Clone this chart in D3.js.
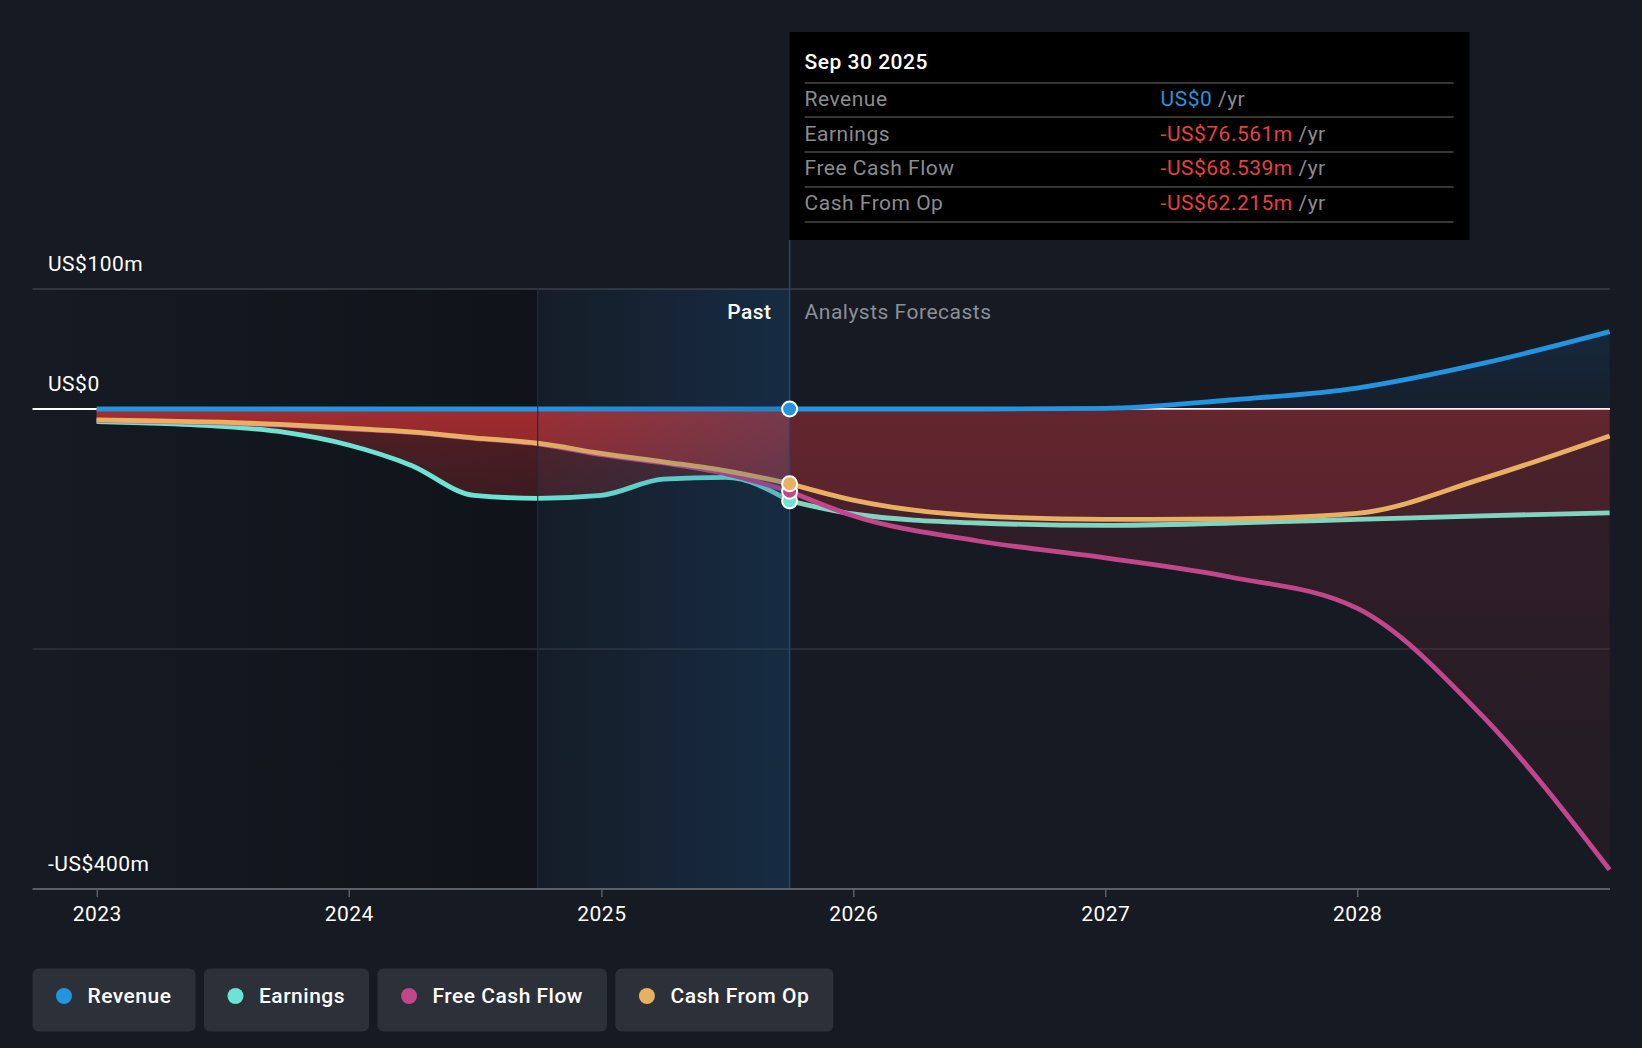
<!DOCTYPE html>
<html>
<head>
<meta charset="utf-8">
<script src="https://cdn.jsdelivr.net/npm/d3@7"></script>
<style>
  html, body { margin: 0; padding: 0; background: #151a23; }
  svg { display: block; font-family: Roboto, "Noto Sans", sans-serif; letter-spacing: 0.5px; }
</style>
</head>
<body>
<script>
// past values, quarterly (US$m)
var pastDates    = ["2022-12-31","2023-03-31","2023-06-30","2023-09-30","2023-12-31","2024-03-31",
                    "2024-06-30","2024-09-30","2024-12-31","2025-03-31","2025-06-30","2025-09-30"];
var pastRevenue  = [0, 0, 0, 0, 0, 0, 0, 0, 0, 0, 0, 0];
var pastEarnings = [-10.5, -12, -14.5, -19.5, -30, -47, -72, -74.4, -72, -58.5, -57, -76.561];
var pastFCF      = [-9.5, -10.5, -11.5, -13.5, -16.5, -19.5, -24.5, -29, -38, -45, -54, -68.539];
var pastCFO      = [-9, -10, -11, -13, -16, -19, -24, -28.5, -37, -44, -51.5, -62.215];

// analyst forecasts (US$m)
var fcDates    = ["2025-09-30","2025-12-31","2026-06-30","2026-12-31","2027-06-30","2027-12-31","2028-06-30","2028-12-31"];
var fcRevenue  = [0, 0, 0, 0.5, 7.5, 17.5, 38, 64.5];
var fcEarnings = [-76.561, -87.5, -95, -97, -95, -92, -89, -86.5];
var fcFCF      = [-68.539, -89, -110, -124, -140, -166, -256, -384];
var fcCFO      = [-62.215, -76, -89, -92, -91.5, -87, -58, -22.5];

var seriesNames  = ["Revenue", "Earnings", "Free Cash Flow", "Cash From Op"];
var seriesColors = ["#2394df", "#6de3d3", "#c2468a", "#e8b062"];
var yTickValues  = [100, 0, -400];
var yGridValues  = [100, -200];
var xTickYears   = [2023, 2024, 2025, 2026, 2027, 2028];
var todayDate    = "2025-09-30";
var yearAgoDate  = "2024-09-30";
var tooltipTitle = "Sep 30 2025";
var tooltipValues = ["US$0", "-US$76.561m", "-US$68.539m", "-US$62.215m"];

var W = 1642, H = 1048;
var plotLeft = 32.5, plotRight = 1610, plotTop = 289, plotBottom = 889;
var fs = 21;

var parse = d3.timeParse("%Y-%m-%d");

var x = d3.scaleTime()
    .domain([parse("2023-01-01"), parse("2029-01-01")])
    .range([97.3, 1610.3]);
var y = d3.scaleLinear().domain([-400, 100]).range([plotBottom, plotTop]);

function rows(dates, vals) {
  return dates.map(function(d, i) { return {date: parse(d), v: vals[i]}; });
}
var past = [pastRevenue, pastEarnings, pastFCF, pastCFO].map(function(v) { return rows(pastDates, v); });
var fc   = [fcRevenue, fcEarnings, fcFCF, fcCFO].map(function(v) { return rows(fcDates, v); });

var fmt = function(v) {
  return (v < 0 ? "-" : "") + "US$" + Math.abs(v) + (v === 0 ? "" : "m");
};

var svg = d3.select("body").append("svg")
    .attr("width", W)
    .attr("height", H);

var defs = svg.append("defs");

function linGrad(id, attrs, stops) {
  var g = defs.append("linearGradient").attr("id", id);
  Object.keys(attrs).forEach(function(k) { g.attr(k, attrs[k]); });
  stops.forEach(function(s) {
    g.append("stop").attr("offset", s[0]).attr("stop-color", s[1]).attr("stop-opacity", s[2]);
  });
}
linGrad("leftShade", {x1: 0, x2: 1, y1: 0, y2: 0}, [[0, "#000", 0.0], [1, "#000", 0.28]]);
linGrad("yearShade", {x1: 0, x2: 1, y1: 0, y2: 0}, [[0, "#19558c", 0.04], [1, "#19558c", 0.3]]);
linGrad("pastRed", {gradientUnits: "userSpaceOnUse", x1: 0, x2: 0, y1: y(0), y2: y(-100)},
  [[0, "#e13737", 0.32], [1, "#e13737", 0.17]]);
linGrad("fcRed", {gradientUnits: "userSpaceOnUse", x1: 0, x2: 0, y1: y(0), y2: y(-400)},
  [[0, "#e03741", 0.15], [1, "#e03741", 0.06]]);
linGrad("fcBlue", {gradientUnits: "userSpaceOnUse", x1: 0, x2: 0, y1: y(100), y2: y(0)},
  [[0, "#2378c8", 0.2], [1, "#2378c8", 0.06]]);

// shaded past backgrounds
svg.append("rect")
    .attr("x", plotLeft).attr("y", plotTop)
    .attr("width", x(parse(yearAgoDate)) - plotLeft)
    .attr("height", plotBottom - plotTop)
    .attr("fill", "url(#leftShade)");

// gridlines
svg.selectAll(".grid").data(yGridValues).enter().append("line")
    .attr("x1", plotLeft).attr("x2", plotRight)
    .attr("y1", function(d) { return y(d); }).attr("y2", function(d) { return y(d); })
    .attr("stroke", function(d, i) { return i === 0 ? "#3b3f47" : "#2e323a"; })
    .attr("stroke-width", 1.5);

// zero line
svg.append("line")
    .attr("x1", plotLeft).attr("x2", plotRight)
    .attr("y1", y(0)).attr("y2", y(0))
    .attr("stroke", "#ffffff").attr("stroke-width", 2);

var area = d3.area()
    .x(function(d) { return x(d.date); })
    .y0(y(0))
    .y1(function(d) { return y(d.v); })
    .curve(d3.curveMonotoneX);

var line = d3.line()
    .x(function(d) { return x(d.date); })
    .y(function(d) { return y(d.v); })
    .curve(d3.curveMonotoneX);

// areas: negative series in red, revenue in blue
[1, 2, 3].forEach(function(i) {
  svg.append("path").datum(past[i]).attr("d", area).attr("fill", "url(#pastRed)");
});
[1, 2, 3].forEach(function(i) {
  svg.append("path").datum(fc[i]).attr("d", area).attr("fill", "url(#fcRed)");
});
svg.append("path").datum(fc[0]).attr("d", area).attr("fill", "url(#fcBlue)");

// lines: earnings, fcf, cfo, revenue
var fcLineColors = ["#2394df", "#80d5c0", "#c2468a", "#e8b062"];
[1, 2, 3, 0].forEach(function(i) {
  svg.append("path").datum(past[i]).attr("d", line)
      .attr("fill", "none").attr("stroke", seriesColors[i]).attr("stroke-width", 4.8);
  svg.append("path").datum(fc[i]).attr("d", line)
      .attr("fill", "none").attr("stroke", fcLineColors[i]).attr("stroke-width", 4.8);
});

// last-year highlight, over the lines
var xa = x(parse(yearAgoDate)), xt = x(parse(todayDate));
svg.append("rect")
    .attr("x", xa).attr("y", plotTop)
    .attr("width", xt - xa).attr("height", plotBottom - plotTop)
    .attr("fill", "url(#yearShade)");
svg.append("line")
    .attr("x1", xa).attr("x2", xa).attr("y1", plotTop).attr("y2", plotBottom)
    .attr("stroke", "#1d2f42").attr("stroke-width", 1.2);
svg.append("line")
    .attr("x1", xt).attr("x2", xt).attr("y1", 240).attr("y2", plotBottom)
    .attr("stroke", "#24486a").attr("stroke-width", 1.5);

// dots at the latest date
[1, 2, 3, 0].forEach(function(i) {
  var last = past[i][past[i].length - 1];
  svg.append("circle")
      .attr("cx", x(last.date)).attr("cy", y(last.v)).attr("r", 7.5)
      .attr("fill", seriesColors[i]).attr("stroke", "#fff").attr("stroke-width", 2);
});

// x axis
svg.append("line")
    .attr("x1", plotLeft).attr("x2", plotRight)
    .attr("y1", plotBottom).attr("y2", plotBottom)
    .attr("stroke", "#5a5e66").attr("stroke-width", 2);
var xAxis = svg.append("g");
xTickYears.forEach(function(yr) {
  var xx = x(new Date(yr, 0, 1));
  xAxis.append("line")
      .attr("x1", xx).attr("x2", xx).attr("y1", plotBottom).attr("y2", plotBottom + 8)
      .attr("stroke", "#5a5e66").attr("stroke-width", 1.5);
  xAxis.append("text")
      .attr("x", xx).attr("y", 921)
      .attr("text-anchor", "middle")
      .attr("fill", "#fff").attr("font-size", fs)
      .text(yr);
});

// y labels
svg.selectAll(".ylab").data(yTickValues).enter().append("text")
    .attr("x", 48).attr("y", function(d) { return y(d) - 18; })
    .attr("fill", "#fff").attr("font-size", fs)
    .text(fmt);

// past / forecast labels
svg.append("text")
    .attr("x", xt - 18).attr("y", 319).attr("text-anchor", "end")
    .attr("fill", "#fff").attr("font-size", fs).attr("font-weight", 500)
    .text("Past");
svg.append("text")
    .attr("x", xt + 15).attr("y", 319)
    .attr("fill", "#8b9096").attr("font-size", fs)
    .text("Analysts Forecasts");

// tooltip
var tip = svg.append("g").attr("transform", "translate(" + xt + ",32)");
tip.append("rect").attr("width", 680).attr("height", 208).attr("fill", "#000");
tip.append("text")
    .attr("x", 15).attr("y", 37)
    .attr("fill", "#fff").attr("font-size", fs).attr("font-weight", 500)
    .text(tooltipTitle);
[51, 85, 120, 155, 190].forEach(function(ly) {
  tip.append("line")
      .attr("x1", 15).attr("x2", 664).attr("y1", ly).attr("y2", ly)
      .attr("stroke", "#484848").attr("stroke-width", 1.5);
});
seriesNames.forEach(function(name, i) {
  var by = 74 + i * 34.5;
  tip.append("text")
      .attr("x", 15).attr("y", by)
      .attr("fill", "#8c8c8c").attr("font-size", fs)
      .text(name);
  var t = tip.append("text")
      .attr("x", 371).attr("y", by).attr("font-size", fs);
  t.append("tspan").attr("fill", i === 0 ? "#2394df" : "#e8403f").text(tooltipValues[i]);
  t.append("tspan").attr("fill", "#8c8c8c").text(" /yr");
});

// legend
var lx = 32.5;
seriesNames.forEach(function(name, i) {
  var g = svg.append("g").attr("transform", "translate(" + lx + ",968.5)");
  var box = g.append("rect").attr("height", 63).attr("rx", 6).attr("fill", "#2c3039");
  g.append("circle").attr("cx", 31.5).attr("cy", 27.5).attr("r", 8).attr("fill", seriesColors[i]);
  var t = g.append("text")
      .attr("x", 55).attr("y", 34.5)
      .attr("fill", "#fff").attr("font-size", fs).attr("font-weight", 500)
      .text(name);
  var w = 55 + t.node().getComputedTextLength() + 24;
  box.attr("width", w);
  lx += w + 8.5;
});
</script>
</body>
</html>
